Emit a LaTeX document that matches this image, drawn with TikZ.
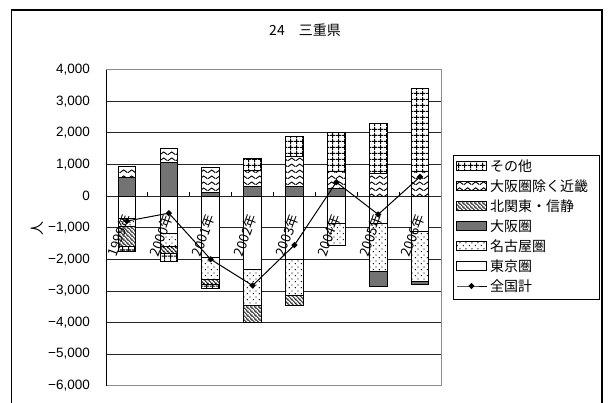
\documentclass[tikz,border=0pt]{standalone}
\usepackage{fontspec}
\setmainfont{Liberation Sans}
\newfontfamily\jpfont{Noto Sans CJK JP}
\usepackage{tikz}
\usetikzlibrary{patterns,shapes.geometric}

% fill patterns of the bar series
\pgfdeclarepatternformonly{squaregrid}{\pgfpointorigin}{\pgfpoint{6pt}{6pt}}{\pgfpoint{6pt}{6pt}}{
  \pgfsetlinewidth{1.1pt}
  \pgfpathmoveto{\pgfpoint{3pt}{0pt}}\pgfpathlineto{\pgfpoint{3pt}{6pt}}
  \pgfpathmoveto{\pgfpoint{0pt}{3pt}}\pgfpathlineto{\pgfpoint{6pt}{3pt}}
  \pgfusepath{stroke}}
\pgfdeclarepatternformonly{zigzag}{\pgfpointorigin}{\pgfpoint{8pt}{6pt}}{\pgfpoint{8pt}{6pt}}{
  \pgfsetlinewidth{1pt}
  \pgfpathmoveto{\pgfpoint{0pt}{1.5pt}}\pgfpathlineto{\pgfpoint{4pt}{4.5pt}}\pgfpathlineto{\pgfpoint{8pt}{1.5pt}}
  \pgfusepath{stroke}}
\pgfdeclarepatternformonly{backslash}{\pgfpointorigin}{\pgfpoint{4pt}{4pt}}{\pgfpoint{4pt}{4pt}}{
  \pgfsetlinewidth{0.9pt}
  \pgfpathmoveto{\pgfpoint{0pt}{4pt}}\pgfpathlineto{\pgfpoint{4pt}{0pt}}
  \pgfpathmoveto{\pgfpoint{-1pt}{1pt}}\pgfpathlineto{\pgfpoint{1pt}{-1pt}}
  \pgfpathmoveto{\pgfpoint{3pt}{5pt}}\pgfpathlineto{\pgfpoint{5pt}{3pt}}
  \pgfusepath{stroke}}
\pgfdeclarepatternformonly{sparsedots}{\pgfpointorigin}{\pgfpoint{6pt}{6pt}}{\pgfpoint{6pt}{6pt}}{
  \pgfpathcircle{\pgfpoint{1.5pt}{1.5pt}}{0.75pt}
  \pgfpathcircle{\pgfpoint{4.5pt}{4.5pt}}{0.75pt}
  \pgfusepath{fill}}

\begin{document}
\begin{tikzpicture}[x=1pt,y=1pt]
    \tikzstyle{tokyobar} = [draw, line width=0.9pt, fill=white]
    \tikzstyle{nagoyabar} = [draw, line width=0.9pt, preaction={fill=white}, pattern=sparsedots]
    \tikzstyle{osakabar} = [draw, line width=0.9pt, fill=black!55]
    \tikzstyle{kitabar} = [draw, line width=0.9pt, preaction={fill=white}, pattern=backslash]
    \tikzstyle{kinkibar} = [draw, line width=0.9pt, preaction={fill=white}, pattern=zigzag]
    \tikzstyle{otherbar} = [draw, line width=0.9pt, preaction={fill=white}, pattern=squaregrid]
    \tikzstyle{ptmark} = [diamond, fill=black, inner sep=0pt, minimum size=6.5pt]
    \tikzstyle{ticklab} = [anchor=east, font=\fontsize{13.5}{14}\selectfont, inner sep=0pt]
    \tikzstyle{yearlab} = [anchor=east, rotate=70, font=\jpfont\fontsize{13.5}{14}\selectfont, inner sep=0pt]
    \tikzstyle{legtext} = [anchor=west, font=\jpfont\fontsize{14}{15}\selectfont, inner sep=0pt]

    \clip (0,0) rectangle (610,402);

    % Chart frame and title
    \draw[line width=1.3pt] (11.5,-5) -- (11.5,392) -- (602,392) -- (602,-5);
    \node[font=\jpfont\fontsize{14}{15}\selectfont] (title) at (305,372) {24　三重県};
    \node[font=\jpfont\fontsize{14}{15}\selectfont, rotate=90] (ylab) at (37,174) {人};

    \begin{scope}[shift={(106pt,205.9pt)}, x=41.875pt, y=31.6pt]
        % Grid lines and value labels
        \foreach \v/\t in {4/{4,000}, 3/{3,000}, 2/{2,000}, 1/{1,000}, 0/0, -1/{−1,000},
                           -2/{−2,000}, -3/{−3,000}, -4/{−4,000}, -5/{−5,000}, -6/{−6,000}} {
            \draw[black!85, line width=0.8pt] (0,\v) -- (8,\v);
            \node[ticklab] (tick\v) at ([xshift=-16pt]0,\v) {\t};
        }
        \draw[black!45, line width=0.9pt] (0,4) -- (8,4) -- (8,-6) -- (0,-6);
        \draw[black, line width=0.9pt] (0,-6) -- (0,4);

        % Stacked bars: year/bottom/top/series
        \foreach \i/\a/\b/\s in {
            0/0/0.60/osakabar, 0/0.60/0.95/kinkibar,
            0/0/-0.72/tokyobar, 0/-0.72/-0.97/nagoyabar, 0/-0.97/-1.59/kitabar, 0/-1.59/-1.76/otherbar,
            1/0/1.05/osakabar, 1/1.05/1.52/kinkibar,
            1/0/-1.17/tokyobar, 1/-1.17/-1.60/nagoyabar, 1/-1.60/-1.83/kitabar, 1/-1.83/-2.07/otherbar,
            2/0/0.13/osakabar, 2/0.13/0.91/kinkibar,
            2/0/-1.93/tokyobar, 2/-1.93/-2.63/nagoyabar, 2/-2.63/-2.81/kitabar, 2/-2.81/-2.92/otherbar,
            3/0/0.30/osakabar, 3/0.30/0.81/kinkibar, 3/0.81/1.20/otherbar,
            3/0/-2.31/tokyobar, 3/-2.31/-3.46/nagoyabar, 3/-3.46/-4.00/kitabar,
            4/0/0.30/osakabar, 4/0.30/1.27/kinkibar, 4/1.27/1.90/otherbar,
            4/0/-2.00/tokyobar, 4/-2.00/-3.13/nagoyabar, 4/-3.13/-3.45/kitabar,
            5/0/0.25/osakabar, 5/0.25/0.78/kinkibar, 5/0.78/2.00/otherbar,
            5/0/-0.86/tokyobar, 5/-0.86/-1.55/nagoyabar,
            6/0/0.71/kinkibar, 6/0.71/2.30/otherbar,
            6/0/-0.86/tokyobar, 6/-0.86/-2.39/nagoyabar, 6/-2.39/-2.85/osakabar,
            7/0/0.79/kinkibar, 7/0.79/3.40/otherbar,
            7/0/-1.13/tokyobar, 7/-1.13/-2.71/nagoyabar, 7/-2.71/-2.81/osakabar} {
            \draw[\s] (\i+0.29,\a) rectangle (\i+0.71,\b);
        }

        % Category ticks on the zero line
        \foreach \i in {1,...,7} {
            \draw[black, line width=0.8pt] (\i,0) -- (\i,0.13);
        }

        % Year labels
        \foreach \y [count=\i from 0] in {1999,2000,2001,2002,2003,2004,2005,2006} {
            \node[yearlab] (yr\i) at (\i+0.5,-0.6) {\y 年};
        }

        % National total
        \foreach \v [count=\k from 0] in {-0.79,-0.54,-2.00,-2.83,-1.55,0.44,-0.58,0.61} {
            \node[ptmark] (m\k) at (\k+0.5,\v) {};
        }
        \draw[line width=1pt] (m0.center) -- (m1.center) -- (m2.center) -- (m3.center)
            -- (m4.center) -- (m5.center) -- (m6.center) -- (m7.center);
    \end{scope}

    % Legend
    \draw[black, line width=0.9pt, fill=white] (453,103) rectangle (599,247);
    \foreach \s/\t [count=\k from 0] in {otherbar/その他, kinkibar/大阪圏除く近畿, kitabar/北関東・信静,
                                         osakabar/大阪圏, nagoyabar/名古屋圏, tokyobar/東京圏} {
        \draw[\s] (456.5,236-20*\k-4.5) rectangle (486.5,236-20*\k+4.5);
        \node[legtext] (leg\k) at (490,236-20*\k) {\t};
    }
    \node[ptmark] (legmark) at (471.5,116) {};
    \draw[line width=1pt] (456.5,116) -- (legmark.center) -- (486.5,116);
    \node[legtext] (leg6) at (490,116) {全国計};
\end{tikzpicture}
\end{document}
